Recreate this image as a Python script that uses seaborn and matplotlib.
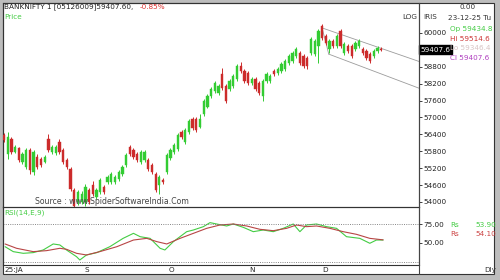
import matplotlib
matplotlib.use("Agg")
import matplotlib.pyplot as plt
from matplotlib.patches import Rectangle
import numpy as np
import pandas as pd
import seaborn as sns

# ---------------- data ----------------
opens = [56390, 55710, 56250, 55790, 55900, 55430, 55250, 55860, 55070, 55610,
         55540, 55430, 56250, 55790, 55750, 56140, 55860, 55500, 55180, 54430,
         54000, 54000, 54000, 54430, 54610, 54180, 54360, 54540, 54710, 54710,
         54710, 54820, 55000, 55320, 55960, 55860, 55710, 55430, 55500, 55500,
         55320, 55000, 54610, 54790, 55070, 55570, 55790, 55890, 56500, 56140,
         56500, 56930, 56930, 56680, 57140, 57390, 57750, 57930, 57860, 58540,
         58110, 58000, 58110, 58360, 58820, 58640, 58570, 58210, 58360, 58210,
         57750, 58290, 58290, 58640, 58570, 58640, 58710, 58930, 59000, 59180,
         59290, 59180, 59110, 59290, 59250, 59540, 60250, 59890, 59430, 59710,
         59540, 60070, 59290, 59540, 59540, 59430, 59540, 59430, 59360, 59250,
         59180, 59360, 59434.8]
closes = [56210, 56320, 55790, 55960, 55500, 55710, 55860, 55140, 55790, 55250,
          55320, 55610, 55860, 55960, 55960, 55790, 55430, 55250, 54460, 53860,
          54360, 54290, 54540, 54000, 54290, 54430, 54790, 54360, 54890, 55000,
          54890, 55070, 55250, 55680, 55710, 55610, 55500, 55790, 55790, 55180,
          55070, 54430, 54890, 54710, 55680, 55860, 56040, 56390, 56320, 56570,
          56860, 56610, 56570, 56960, 57570, 57750, 58000, 58210, 58110, 58040,
          57570, 58290, 58460, 58820, 58640, 58290, 58210, 58360, 58000, 57860,
          58290, 58540, 58460, 58540, 58710, 58890, 59000, 59180, 59290, 59430,
          58930, 58820, 58820, 59790, 59710, 60070, 59820, 59640, 59710, 59540,
          59890, 59540, 59610, 59360, 59180, 59640, 59710, 59290, 59110, 59000,
          59360, 59460, 59407.6]
highs = [56460, 56500, 56300, 56040, 55960, 55790, 55930, 55930, 55860, 55700,
         55610, 55680, 56430, 56040, 56040, 56250, 55930, 55570, 55250, 54500,
         54430, 54390, 54640, 54500, 54750, 54500, 54860, 54610, 54960, 55070,
         54960, 55140, 55320, 55750, 56040, 55930, 55790, 55860, 55860, 55570,
         55390, 55070, 54960, 54860, 55750, 55930, 56110, 56460, 56570, 56640,
         56930, 57000, 57000, 57140, 57640, 57820, 58070, 58290, 58180, 58750,
         58180, 58360, 58540, 58890, 58960, 58710, 58640, 58430, 58430, 58290,
         58360, 58610, 58540, 58710, 58790, 58960, 59070, 59250, 59360, 59500,
         59360, 59250, 59180, 59860, 59790, 60140, 60320, 59960, 59790, 59790,
         59960, 60140, 59680, 59610, 59610, 59710, 59790, 59500, 59430, 59320,
         59430, 59540, 59514.6]
lows = [56140, 55540, 55720, 55750, 55430, 55360, 55180, 55000, 54960, 55180,
        55250, 55390, 55790, 55720, 55680, 55720, 55360, 55180, 54390, 53830,
        53890, 53930, 53860, 53930, 54210, 54110, 54290, 54290, 54640, 54640,
        54640, 54750, 54930, 55250, 55640, 55540, 55430, 55360, 55430, 55110,
        55000, 54360, 54290, 54640, 55000, 55500, 55710, 55820, 56250, 56070,
        56430, 56540, 56500, 56610, 57070, 57320, 57680, 57860, 57790, 57970,
        57500, 57930, 58040, 58290, 58570, 58210, 58140, 58140, 57930, 57790,
        57570, 58210, 58210, 58460, 58500, 58570, 58640, 58860, 58930, 59110,
        58860, 58750, 58710, 59210, 59180, 58930, 59750, 59570, 59290, 59460,
        59460, 59460, 59210, 59290, 59110, 59360, 59460, 59210, 59040, 58930,
        59110, 59290, 59346.4]

# channel drawn on the chart (candle index, price)
chan_upper_x = [86.0, 112.2]
chan_upper_y = [60180, 58990]
chan_lower_x = [87.8, 112.2]
chan_lower_y = [59250, 58040]
chan_join_x = [86.0, 87.8]
chan_join_y = [60180, 59250]

# RSI (green) and its average (red), read at candle indices
rsi_x = [0.3, 2.5, 5.2, 7.9, 10.6, 13.3, 15.1, 16.9, 19.6, 20.5, 22.3, 25.1, 28.6,
         32.2, 35.0, 36.8, 39.5, 42.2, 43.5, 45.8, 49.4, 51.2, 53.9, 55.7, 57.5,
         60.2, 62.0, 64.7, 67.4, 70.1, 72.8, 75.5, 78.2, 80.0, 81.8, 84.5, 87.2,
         89.9, 92.6, 96.2, 98.9, 100.7, 102.5]
rsi_y = [45.1, 38.6, 36.4, 37.3, 40.8, 48.7, 47.4, 40.8, 32.0, 27.6, 34.2, 37.3, 45.1,
         56.1, 62.7, 58.3, 56.1, 43.0, 40.8, 51.8, 64.9, 67.1, 71.5, 76.8, 75.0,
         72.4, 75.0, 70.6, 64.9, 67.1, 64.9, 69.3, 75.0, 64.9, 73.7, 75.0, 71.5,
         69.3, 58.3, 56.1, 49.6, 53.9, 53.9]
sig_x = [0.3, 3.4, 7.9, 11.5, 15.1, 16.9, 19.6, 22.3, 25.9, 30.5, 35.0, 38.6, 41.3,
         44.0, 47.6, 51.2, 54.8, 58.4, 62.0, 65.6, 69.2, 72.8, 76.4, 79.1, 81.8,
         84.5, 88.1, 91.7, 95.3, 98.9, 102.5]
sig_y = [48.7, 43.0, 38.6, 39.9, 43.0, 41.7, 36.4, 34.2, 38.6, 45.1, 53.9, 56.1, 51.8,
         48.7, 56.1, 62.7, 69.3, 73.7, 75.0, 72.4, 68.0, 66.2, 69.3, 73.7, 71.5,
         72.4, 69.3, 64.9, 61.4, 56.1, 54.1]

price_ticks = [60000, 58800, 58200, 57600, 57000, 56400, 55800, 55200, 54600, 54000]
rsi_ticks = [75, 50]
rsi_levels = [75, 25]
month_pos = [0, 22.4, 45.4, 67.0, 86.8]
month_labels = ["25:JA", "S", "O", "N", "D"]

# ---------------- style ----------------
sns.set_theme(style="white")
plt.rcParams['font.family'] = ['DejaVu Sans']

GREEN = "#33cc33"
RED = "#cc2b2b"
W, H = 500, 280

fig = plt.figure(figsize=(5, 2.8), dpi=100, facecolor="#bdbdbd")

def fx(x):
    return x / W

def fy(y):
    return 1 - y / H

# white window with frame (drawn below everything)
frame = Rectangle((fx(3), fy(274)), fx(491), 271 / H, transform=fig.transFigure,
                  facecolor="white", edgecolor="#333333", lw=0.8, zorder=-10)
fig.patches.append(frame)
fig.add_artist(plt.Line2D([fx(419), fx(419)], [fy(3), fy(274)], transform=fig.transFigure,
                          color="#444444", lw=0.8, zorder=5))

ax_p = fig.add_axes([fx(3), fy(207), 416 / W, 204 / H])
ax_r = fig.add_axes([fx(3), fy(265), 416 / W, 58 / H])

df = pd.DataFrame({"o": opens, "h": highs, "l": lows, "c": closes})
df["i"] = np.arange(len(df))
df["col"] = np.where(df["c"] >= df["o"], GREEN, RED)

ax_p.vlines(df["i"], df["l"], df["h"], colors=df["col"], lw=0.7, zorder=2)
ax_p.bar(df["i"], (df["c"] - df["o"]).abs().clip(lower=12),
         bottom=np.minimum(df["o"], df["c"]), width=0.62, color=df["col"],
         edgecolor=df["col"], lw=0.3, zorder=3)

for xs, ys in [(chan_upper_x, chan_upper_y), (chan_lower_x, chan_lower_y), (chan_join_x, chan_join_y)]:
    ax_p.plot(xs, ys, color="#9c9c9c", lw=0.6, zorder=1)

ax_p.set_xlim(-0.27, 112.2)
ax_p.set_ylim(53822, 61065)
ax_p.set_xticks([])
ax_p.yaxis.tick_right()
ax_p.set_yticks(price_ticks)
ax_p.set_yticklabels([str(t) for t in price_ticks])
ax_p.tick_params(axis="y", right=True, length=2, width=0.6, pad=1, labelsize=5.2,
                 colors="#222222")
for s in ax_p.spines.values():
    s.set_color("#333333")
    s.set_linewidth(0.8)
ax_p.set_facecolor("none")

# current price box
ax_p.text(1.004, closes[-1], f"{closes[-1]:.1f}", transform=ax_p.get_yaxis_transform(),
          va="center", ha="left", fontsize=5.2, color="white", clip_on=False, zorder=10,
          bbox=dict(boxstyle="square,pad=0.25", facecolor="black", edgecolor="black"))

# RSI panel
rsi_df = pd.DataFrame({"x": rsi_x, "y": rsi_y})
sig_df = pd.DataFrame({"x": sig_x, "y": sig_y})
sns.lineplot(data=rsi_df, x="x", y="y", ax=ax_r, color="#44cc44", lw=0.8, sort=False)
sns.lineplot(data=sig_df, x="x", y="y", ax=ax_r, color="#b84545", lw=0.8, sort=False)
for lv in rsi_levels:
    ax_r.axhline(lv, color="#777777", lw=0.6, ls=(0, (1.2, 1.5)))
ax_r.set_xlim(-0.27, 112.2)
ax_r.set_ylim(21.0, 97.4)
ax_r.set_xlabel("")
ax_r.set_ylabel("")
ax_r.yaxis.tick_right()
ax_r.set_yticks(rsi_ticks)
ax_r.set_yticklabels([f"{t:.2f}" for t in rsi_ticks])
ax_r.tick_params(axis="y", right=True, length=2, width=0.6, pad=1, labelsize=5.2,
                 colors="#222222")
ax_r.set_xticks(month_pos)
ax_r.set_xticklabels(month_labels)
ax_r.tick_params(axis="x", length=0, pad=1.5, labelsize=5.2, colors="#222222")
ax_r.get_xticklabels()[0].set_horizontalalignment("left")
for s in ax_r.spines.values():
    s.set_color("#333333")
    s.set_linewidth(0.8)
ax_r.set_facecolor("none")

# texts
fs = 5.2
fig.text(fx(4), fy(7), "BANKNIFTY 1 [05126009]59407.60,  ", fontsize=fs, color="#222222",
         va="center", ha="left")
fig.text(fx(140), fy(7), "-0.85%", fontsize=fs, color="#dd3333", va="center", ha="left")
fig.text(fx(4), fy(17), "Price", fontsize=fs, color="#44cc44", va="center", ha="left")
fig.text(fx(4), fy(213), "RSI(14,E,9)", fontsize=fs, color="#44cc44", va="center", ha="left")
fig.text(fx(35), fy(201), "Source : www.SpiderSoftwareIndia.Com", fontsize=5.6,
         color="#444444", va="center", ha="left")
fig.text(fx(402), fy(17), "LOG", fontsize=fs, color="#333333", va="center", ha="left")
fig.text(fx(423), fy(17), "IRIS", fontsize=fs, color="#333333", va="center", ha="left")
fig.text(fx(468), fy(7), "0.00", fontsize=fs, color="#333333", va="center", ha="center")
fig.text(fx(448), fy(18), "23-12-25 Tu", fontsize=fs, color="#333333", va="center", ha="left")
fig.text(fx(450), fy(29), "Op 59434.8", fontsize=fs, color="#44cc44", va="center", ha="left")
fig.text(fx(450), fy(39), "Hi 59514.6", fontsize=fs, color="#cc3333", va="center", ha="left")
fig.text(fx(450), fy(48), "Lo 59346.4", fontsize=fs, color="#d8c4c4", va="center", ha="left")
fig.text(fx(450), fy(58), "Cl 59407.6", fontsize=fs, color="#b040c0", va="center", ha="left")
fig.text(fx(450), fy(225), "Rs", fontsize=fs, color="#44cc44", va="center", ha="left")
fig.text(fx(475), fy(225), f"{rsi_y[-1]:.2f}", fontsize=fs, color="#44cc44", va="center", ha="left")
fig.text(fx(450), fy(234), "Rs", fontsize=fs, color="#cc4444", va="center", ha="left")
fig.text(fx(475), fy(234), f"{sig_y[-1]:.2f}", fontsize=fs, color="#cc4444", va="center", ha="left")
fig.text(fx(484), fy(270), "Dly", fontsize=fs, color="#333333", va="center", ha="left")

fig.savefig("out.png", dpi=100, facecolor=fig.get_facecolor())
